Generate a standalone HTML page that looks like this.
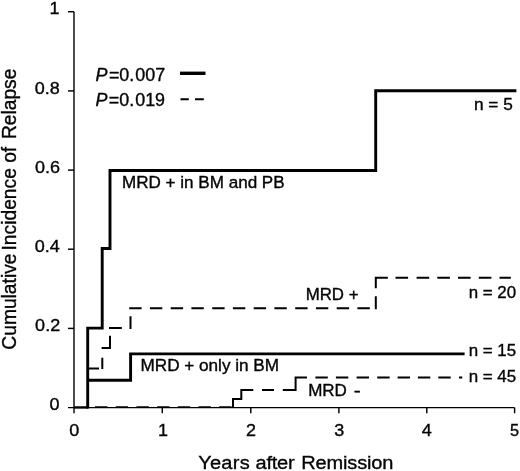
<!DOCTYPE html>
<html lang="en"><head><meta charset="utf-8"><title>Cumulative Incidence of Relapse</title>
<style>html,body{margin:0;padding:0;background:#fff}svg{display:block;filter:blur(.25px)}text{font-family:"Liberation Sans",Arial,Helvetica,sans-serif;fill:#050505;stroke:#050505;stroke-width:.35px}</style></head><body>
<svg width="520" height="471" viewBox="0 0 520 471">
<rect width="520" height="471" fill="#fff"/>
<g stroke="#000" fill="none" stroke-width="1.4">
<path d="M74 11.7V413.2"/>
<path d="M68 407.6H514.6"/>
</g>
<g stroke="#000" fill="none" stroke-width="1.45">
<path d="M68 328.4H74"/>
<path d="M68 249.2H74"/>
<path d="M68 170.1H74"/>
<path d="M68 90.9H74"/>
<path d="M68 11.7H74"/>
<path d="M162.3 407.6V413.2"/>
<path d="M250.8 407.6V413.2"/>
<path d="M338.9 407.6V413.2"/>
<path d="M426.8 407.6V413.2"/>
<path d="M514.6 407.6V413.2"/>
</g>
<g stroke="#000" fill="none" stroke-width="2.9" stroke-linejoin="miter">
<path d="M87.7 408.4V328.1H102.2V248.5H110V170.5H375.7V90.8H516.4"/>
<path d="M87.7 380.3H130.6V353.9H464.6"/>
</g>
<path d="M180 73.3H205.5" stroke="#000" stroke-width="3.4"/>
<path d="M74 407.4H88" stroke="#000" stroke-width="2.3"/>
<g stroke="#000" fill="none" stroke-width="2">
<path d="M180.5 99.3H188.8M195 99.3H203.8"/>
<path d="M88.8 368.6H99M102.3 369V357.7M101.6 348.1H111M110 348.8V335.8M109 328.1H121.8M130.5 329V316.2M129.2 308.3H141.6M149.9 308.3H162.3M170.7 308.3H183.1M191.4 308.3H203.8M212.2 308.3H224.6M232.9 308.3H245.3M253.7 308.3H266.1M274.4 308.3H286.8M295.2 308.3H307.6M315.9 308.3H328.3M336.7 308.3H349.1M357.4 308.3H369.8M375.8 309.2V296.3M375.8 288.3V276.8M374.8 277.8H387.8M395.5 277.8H408.1M416.6 277.8H429.2M437.3 277.8H449.9M458.0 277.8H470.6M478.8 277.8H491.4M499.5 277.8H510.8M233 407.6V399H241.3V390H253.3M262 390H274M282.8 390H295.6V377.6H307M315.4 377.6H327.8M335.9 377.6H348.3M356.6 377.6H369.0M377.2 377.6H389.6M397.6 377.6H410.0M417.9 377.6H430.3M438.3 377.6H450.7M459 377.6H462.3"/>
</g>
<path d="M95.0 407.15H107.4M115.7 407.15H128.1M136.4 407.15H148.8M157.1 407.15H169.5M177.8 407.15H190.2M198.5 407.15H210.9M219.2 407.15H231.6" stroke="#000" stroke-width="1.7" fill="none"/>
<text transform="translate(49.59 13.5) scale(1.0600 1)" font-size="17">1</text>
<text transform="translate(34.86 93.6) scale(1.0600 1)" font-size="17">0.8</text>
<text transform="translate(34.96 172.6) scale(1.0600 1)" font-size="17">0.6</text>
<text transform="translate(34.84 251.9) scale(1.0600 1)" font-size="17">0.4</text>
<text transform="translate(35.12 330.7) scale(1.0600 1)" font-size="17">0.2</text>
<text transform="translate(49.60 410.0) scale(1.0600 1)" font-size="17">0</text>
<text transform="translate(69.30 436.3) scale(1.0600 1)" font-size="17">0</text>
<text transform="translate(158.04 436.3) scale(1.0600 1)" font-size="17">1</text>
<text transform="translate(246.10 436.3) scale(1.0600 1)" font-size="17">2</text>
<text transform="translate(334.30 436.3) scale(1.0600 1)" font-size="17">3</text>
<text transform="translate(421.66 436.3) scale(1.0600 1)" font-size="17">4</text>
<text transform="translate(510.04 436.3) scale(0.9600 1)" font-size="17">5</text>
<text transform="translate(198.16 469.0) scale(1.0442 1)" font-size="19.2"><tspan letter-spacing=".25">Years</tspan> <tspan letter-spacing="-.25">after</tspan> <tspan dx="1.4" letter-spacing="-.18">Remission</tspan></text>
<text transform="translate(95.51 81.4) scale(1.0133 1)" font-size="17.7"><tspan font-style="italic">P</tspan><tspan dx="1.4">=</tspan>0.<tspan dx="0.9">007</tspan></text>
<text transform="translate(95.51 106.0) scale(1.0115 1)" font-size="17.7"><tspan font-style="italic">P</tspan><tspan dx="1.4">=</tspan>0.<tspan dx="0.9">019</tspan></text>
<text transform="translate(121.99 188.3) scale(1.0612 1)" font-size="16.1">MRD + in BM and PB</text>
<text transform="translate(305.65 300.2) scale(1.0462 1)" font-size="16.1">MRD +</text>
<text transform="translate(140.49 371.4) scale(1.0651 1)" font-size="16.1">MRD + only in BM</text>
<text transform="translate(308.15 395.6) scale(1.0576 1)" font-size="16.1">MRD <tspan dx="1.9" textLength="6.6" lengthAdjust="spacingAndGlyphs">-</tspan></text>
<text transform="translate(473.93 109.5) scale(1.0773 1)" font-size="16">n = 5</text>
<text transform="translate(468.66 297.9) scale(1.0544 1)" font-size="16">n = 20</text>
<text transform="translate(468.66 356.2) scale(1.0575 1)" font-size="16">n = 15</text>
<text transform="translate(468.66 381.7) scale(1.0575 1)" font-size="16">n = 45</text>
<text transform="translate(16.4 349.68) rotate(-90) scale(1.0018 1.07)" font-size="19.2">Cumulative <tspan dx="-2.3">Incidence</tspan> of <tspan dx="2.3">Relapse</tspan></text>
</svg></body></html>
